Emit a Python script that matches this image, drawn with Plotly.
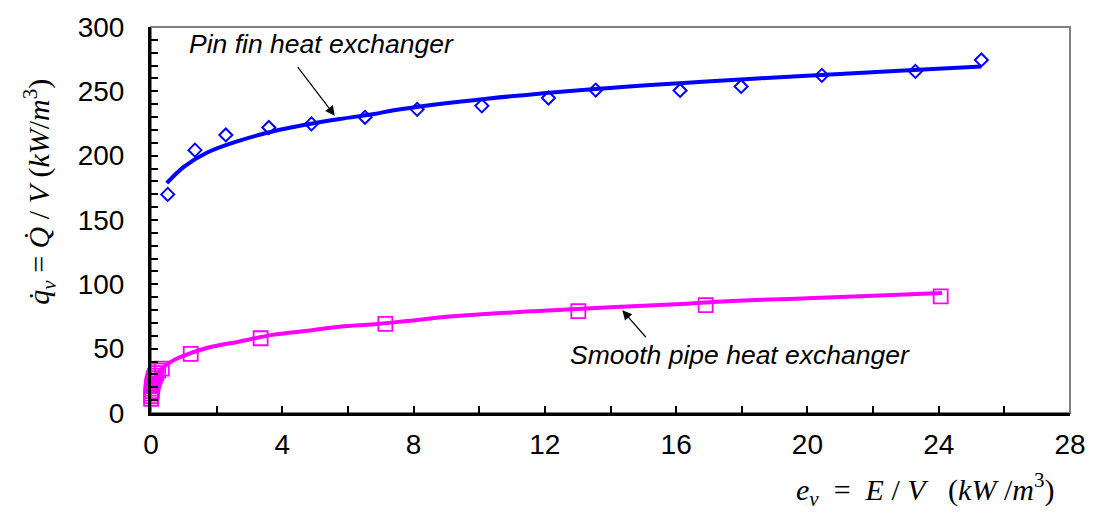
import plotly.graph_objects as go

# Pin fin heat exchanger: measured points
pin_x = [0.51, 1.34, 2.28, 3.59, 4.89, 6.52, 8.11, 10.08, 12.11, 13.55, 16.12, 17.98, 20.44, 23.29, 25.30]
pin_y = [169.9, 204.3, 216.1, 221.9, 224.7, 229.8, 236.0, 238.7, 244.8, 251.0, 250.7, 253.8, 262.4, 265.5, 274.4]
# Pin fin heat exchanger: trend line
pin_fit_x = [0.48, 1.0, 1.7, 2.7, 3.7, 4.7, 5.75, 6.8, 7.4, 10.3, 13.35, 16.8, 19.7, 22.8, 25.3]
pin_fit_y = [178.6, 191.3, 202.3, 211.7, 218.8, 224.0, 228.5, 232.4, 235.3, 244.4, 251.5, 257.5, 261.7, 266.0, 269.3]

# Smooth pipe heat exchanger: measured points
smooth_x = [0.005, 0.008, 0.012, 0.018, 0.025, 0.035, 0.05, 0.07, 0.09, 0.12, 0.16, 0.22, 0.33,
            1.21, 3.34, 7.14, 13.02, 16.90, 24.06]
smooth_y = [11, 13, 15, 17, 19, 21, 23, 25, 27, 29, 31, 33, 34.5,
            45.9, 58.1, 69.2, 79.1, 83.9, 90.6]
# Smooth pipe heat exchanger: trend line
smooth_fit_x = [0.01, 0.05, 0.1, 0.2, 0.33, 0.68, 1.0, 1.7, 2.7, 3.7, 4.7, 5.75, 6.8, 7.8, 9.3,
                11.8, 14.0, 16.0, 17.9, 20.0, 22.0, 24.1]
smooth_fit_y = [15.4, 22.3, 26.2, 30.7, 34.5, 40.9, 44.6, 50.5, 55.6, 60.7, 63.8, 67.1, 69.0, 71.5, 75.3,
                79.3, 82.1, 84.6, 87.3, 89.1, 91.1, 93.2]

x_ticks = [0, 4, 8, 12, 16, 20, 24, 28]
y_ticks = [0, 50, 100, 150, 200, 250, 300]

BLUE = "#0000FF"
MAG = "#FF00FF"
SANS = "Liberation Sans, Arial, sans-serif"
SERIF = "Liberation Serif, Times New Roman, serif"
NB = "\u00a0"

fig = go.Figure()

fig.add_trace(go.Scatter(x=pin_fit_x, y=pin_fit_y, mode="lines",
                         line=dict(color=BLUE, width=4, shape="spline", smoothing=1.0),
                         showlegend=False, cliponaxis=False))
fig.add_trace(go.Scatter(x=pin_x, y=pin_y, mode="markers",
                         marker=dict(symbol="diamond-open", size=10, color=BLUE,
                                     line=dict(color=BLUE, width=2)),
                         showlegend=False, cliponaxis=False))
fig.add_trace(go.Scatter(x=smooth_fit_x, y=smooth_fit_y, mode="lines",
                         line=dict(color=MAG, width=4, shape="spline", smoothing=1.0),
                         showlegend=False, cliponaxis=False))
fig.add_trace(go.Scatter(x=smooth_x, y=smooth_y, mode="markers",
                         marker=dict(symbol="square-open", size=14, color=MAG,
                                     line=dict(color=MAG, width=1.8)),
                         showlegend=False, cliponaxis=False))

# plot-area border (grey top/right)
fig.add_shape(type="rect", xref="paper", yref="paper", x0=0, x1=1, y0=0, y1=1,
              line=dict(color="#808080", width=2), layer="below")

# arrows (line from tail to head, head at data curve)
fig.add_annotation(x=5.60, y=231.1, ax=4.38, ay=271.9, xref="x", yref="y", axref="x", ayref="y",
                   text=" ", showarrow=True, arrowhead=2, arrowsize=1.6, arrowwidth=1.2,
                   arrowcolor="black", standoff=0)
fig.add_annotation(x=14.36, y=79.9, ax=15.17, ay=56.2, xref="x", yref="y", axref="x", ayref="y",
                   text=" ", showarrow=True, arrowhead=2, arrowsize=1.6, arrowwidth=1.2,
                   arrowcolor="black", standoff=0)

fig.add_annotation(x=1.1, y=287, xref="x", yref="y", xanchor="left", yanchor="middle",
                   text="<i>Pin fin heat exchanger</i>", showarrow=False,
                   font=dict(family=SANS, size=26.5, color="black"))
fig.add_annotation(x=12.7, y=45, xref="x", yref="y", xanchor="left", yanchor="middle",
                   text="<i>Smooth pipe heat exchanger</i>", showarrow=False,
                   font=dict(family=SANS, size=26.5, color="black"))

y_title = ("<i>q\u0307</i><sub><i>v</i></sub>" + NB + "=" + NB + "<i>Q\u0307</i>" + NB + "/" + NB +
           "<i>V</i>" + NB + "(<i>kW</i>/<i>m</i><sup>3</sup>)")
fig.add_annotation(x=(39 - 151) / 921, y=(413 - 188) / 392, xref="paper", yref="paper",
                   xanchor="center", yanchor="middle", textangle=-90, showarrow=False,
                   text=y_title, font=dict(family=SERIF, size=30, color="black"))

x_title = ("<i>e</i><sub><i>v</i></sub>" + NB * 2 + "=" + NB * 2 + "<i>E</i>" + NB + "/" + NB + "<i>V</i>" +
           NB * 3 + "(<i>kW</i>" + NB + "/<i>m</i><sup>3</sup>)")
fig.add_annotation(x=(1058 - 151) / 921, y=(413 - 491) / 392, xref="paper", yref="paper",
                   xanchor="right", yanchor="middle", showarrow=False,
                   text=x_title, font=dict(family=SERIF, size=30, color="black"))

fig.update_xaxes(range=[0, 28], tickvals=x_ticks, ticktext=[str(v) for v in x_ticks],
                 ticks="inside", ticklen=7, tickwidth=2, tickcolor="black",
                 minor=dict(dtick=2, tick0=0, ticks="inside", ticklen=7, tickwidth=2, tickcolor="black"),
                 showline=True, linecolor="black", linewidth=3, showgrid=False, zeroline=False,
                 ticklabelstandoff=4,
                 tickfont=dict(family=SANS, size=28, color="black"))
fig.update_yaxes(range=[0, 300], tickvals=y_ticks, ticktext=[str(v) for v in y_ticks],
                 ticks="inside", ticklen=7, tickwidth=2, tickcolor="black",
                 minor=dict(dtick=10, tick0=0, ticks="inside", ticklen=7, tickwidth=2, tickcolor="black"),
                 showline=True, linecolor="black", linewidth=3, showgrid=False, zeroline=False,
                 ticklabelstandoff=18,
                 tickfont=dict(family=SANS, size=28, color="black"))

fig.update_layout(width=1098, height=513, margin=dict(l=151, r=26, t=21, b=100),
                  plot_bgcolor="white", paper_bgcolor="white")

fig.write_html("out.html", config={"displayModeBar": False},
               post_script="document.body.style.margin='0px';")
